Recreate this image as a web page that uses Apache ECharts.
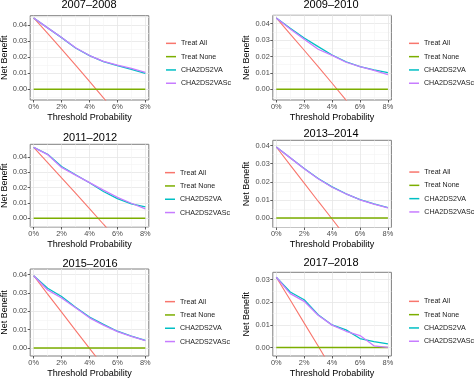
<!DOCTYPE html>
<html><head><meta charset="utf-8">
<script src="https://cdn.jsdelivr.net/npm/echarts@6/dist/echarts.min.js"></script>
<style>html,body{margin:0;padding:0;background:#fff}#c{width:474px;height:380px}</style>
</head><body><div id="c"></div>
<script>
// ---------- data ----------
const thresholds = [0, 1, 2, 3, 4, 5, 6, 7, 8];           // threshold probability, %
const periods = ['2007–2008', '2009–2010', '2011–2012', '2013–2014', '2015–2016', '2017–2018'];
const seriesNames = ['Treat All', 'Treat None', 'CHA2DS2VA', 'CHA2DS2VASc'];
const xTickValues = [0, 2, 4, 6, 8];
const yTickValuesA = [0, 0.01, 0.02, 0.03, 0.04];
const yTickValuesB = [0, 0.01, 0.02, 0.03];

const treatNone = [0, 0, 0, 0, 0, 0, 0, 0, 0];

const treatAll_2007_2008 = [0.0446, 0.0350, 0.0251, 0.0151, 0.0049, -0.0054, -0.0160];
const va_2007_2008       = [0.0446, 0.0384, 0.0323, 0.0258, 0.0210, 0.0173, 0.0148, 0.0125, 0.0100];
const vasc_2007_2008     = [0.0446, 0.0384, 0.0324, 0.0260, 0.0211, 0.0174, 0.0151, 0.0130, 0.0105];

const treatAll_2009_2010 = [0.0435, 0.0336, 0.0238, 0.0138, 0.0037, -0.0066, -0.0170];
const va_2009_2010       = [0.0435, 0.0372, 0.0313, 0.0260, 0.0209, 0.0168, 0.0139, 0.0118, 0.0102];
const vasc_2009_2010     = [0.0435, 0.0368, 0.0305, 0.0244, 0.0207, 0.0165, 0.0138, 0.0115, 0.0090];

const treatAll_2011_2012 = [0.0463, 0.0363, 0.0263, 0.0164, 0.0063, -0.0039, -0.0140];
const va_2011_2012       = [0.0463, 0.0418, 0.0338, 0.0284, 0.0232, 0.0175, 0.0128, 0.0094, 0.0075];
const vasc_2011_2012     = [0.0463, 0.0416, 0.0332, 0.0282, 0.0233, 0.0184, 0.0137, 0.0098, 0.0062];

const treatAll_2013_2014 = [0.0392, 0.0292, 0.0193, 0.0093, -0.0005, -0.0105];
const va_2013_2014       = [0.0392, 0.0333, 0.0273, 0.0218, 0.0172, 0.0134, 0.0102, 0.0078, 0.0057];
const vasc_2013_2014     = [0.0392, 0.0332, 0.0272, 0.0217, 0.0170, 0.0133, 0.0101, 0.0077, 0.0056];

const treatAll_2015_2016 = [0.0393, 0.0293, 0.0195, 0.0096, -0.0002, -0.0100];
const va_2015_2016       = [0.0393, 0.0325, 0.0280, 0.0222, 0.0168, 0.0128, 0.0091, 0.0064, 0.0041];
const vasc_2015_2016     = [0.0393, 0.0316, 0.0272, 0.0219, 0.0164, 0.0124, 0.0089, 0.0063, 0.0040];

const treatAll_2017_2018 = [0.0310, 0.0210, 0.0108, 0.0007, -0.0096];
const va_2017_2018       = [0.0310, 0.0245, 0.0211, 0.0145, 0.0100, 0.0078, 0.0040, 0.0026, 0.0016];
const vasc_2017_2018     = [0.0310, 0.0238, 0.0204, 0.0143, 0.0099, 0.0072, 0.0053, 0.0008, 0.0001];

const panelData = [
  [treatAll_2007_2008, treatNone, va_2007_2008, vasc_2007_2008],
  [treatAll_2009_2010, treatNone, va_2009_2010, vasc_2009_2010],
  [treatAll_2011_2012, treatNone, va_2011_2012, vasc_2011_2012],
  [treatAll_2013_2014, treatNone, va_2013_2014, vasc_2013_2014],
  [treatAll_2015_2016, treatNone, va_2015_2016, vasc_2015_2016],
  [treatAll_2017_2018, treatNone, va_2017_2018, vasc_2017_2018]
];
const yTicksPerPanel = [yTickValuesA, yTickValuesA, yTickValuesA, yTickValuesA, yTickValuesA, yTickValuesB];

// ---------- layout / style ----------
const FONT = '"Liberation Sans", Arial, Helvetica, sans-serif';
const colors = ['#F8766D', '#7CAE00', '#00BFC4', '#C77CFF'];
const lineWidths = [1.1, 1.5, 1.3, 1.3];
const gridLeft   = [30.2, 272.8, 30.2, 272.8, 30.2, 272.8];
const gridTop    = [15.7, 15.3, 144.3, 140.3, 269, 272.3];
const gridHeight = [84.3, 84.7, 82.7, 87.2, 87, 83.7];
const gridWidth  = 118.6;
const yMin = [-0.0067, -0.0065, -0.0057, -0.0052, -0.0044, -0.0037];
const yMax = [0.0460, 0.0451, 0.0483, 0.0429, 0.0430, 0.0332];
const titleX = [89, 331, 90, 331, 90, 331];
const titleY = [5, 5, 138, 134, 263.5, 263];
const legendLeft = [166, 409, 165, 409.3, 165, 409];
const legendTop  = [36.7, 36.7, 166, 165.4, 295, 294.7];

const option = {
  animation: false,
  backgroundColor: '#ffffff',
  textStyle: { fontFamily: FONT },
  title: [], legend: [], grid: [], xAxis: [], yAxis: [], series: []
};

periods.forEach((p, i) => {
  option.title.push({
    text: p, left: titleX[i], top: titleY[i] - 6.5, textAlign: 'center', padding: 0,
    textStyle: { fontFamily: FONT, fontSize: 11, fontWeight: 'normal', color: '#000', lineHeight: 13 }
  });
  option.legend.push({
    orient: 'vertical', left: legendLeft[i], top: legendTop[i], padding: 0,
    itemGap: 0, itemWidth: 10, itemHeight: 1.5, icon: 'rect',
    selectedMode: false,
    textStyle: { fontFamily: FONT, fontSize: 7.1, color: '#1a1a1a', lineHeight: 13.3 },
    data: seriesNames
  });
  option.grid.push({
    left: gridLeft[i], top: gridTop[i], width: gridWidth, height: gridHeight[i],
    containLabel: false, outerBoundsMode: 'none',
    show: true, borderColor: '#7f7f7f', borderWidth: 1, backgroundColor: '#fff'
  });
  option.xAxis.push({
    type: 'value', gridIndex: i, min: -0.25, max: 8.25, minInterval: 2, maxInterval: 2,
    name: 'Threshold Probability', nameLocation: 'middle', nameGap: 13,
    nameTextStyle: { fontFamily: FONT, fontSize: 9, color: '#000' },
    axisLine: { show: false, onZero: false },
    axisTick: { show: true, length: 2.5, lineStyle: { color: '#333', width: 0.8 }, customValues: xTickValues },
    axisLabel: { fontFamily: FONT, fontSize: 7.4, color: '#4d4d4d', margin: 3, customValues: xTickValues,
      formatter: v => (Math.abs(v - Math.round(v)) < 1e-9 && Math.round(v) % 2 === 0) ? Math.round(v) + '%' : '' },
    splitLine: { show: true, lineStyle: { color: '#e6e6e6', width: 0.8 } },
    minorTick: { show: false, splitNumber: 2 },
    minorSplitLine: { show: true, lineStyle: { color: '#f3f3f3', width: 0.6 } }
  });
  option.yAxis.push({
    type: 'value', gridIndex: i, min: yMin[i], max: yMax[i], minInterval: 0.01, maxInterval: 0.01,
    name: 'Net Benefit', nameLocation: 'middle', nameRotate: 90, nameGap: 21.5,
    nameTextStyle: { fontFamily: FONT, fontSize: 9, color: '#000' },
    axisLine: { show: false, onZero: false },
    axisTick: { show: true, length: 2.5, lineStyle: { color: '#333', width: 0.8 }, customValues: yTicksPerPanel[i] },
    axisLabel: { fontFamily: FONT, fontSize: 7.4, color: '#4d4d4d', margin: 3, customValues: yTicksPerPanel[i],
      formatter: v => (Math.abs(v * 100 - Math.round(v * 100)) < 1e-6) ? v.toFixed(2) : '' },
    splitLine: { show: true, lineStyle: { color: '#e6e6e6', width: 0.8 } },
    minorTick: { show: false, splitNumber: 2 },
    minorSplitLine: { show: true, lineStyle: { color: '#f3f3f3', width: 0.6 } }
  });
  panelData[i].forEach((arr, k) => {
    option.series.push({
      name: seriesNames[k], type: 'line', xAxisIndex: i, yAxisIndex: i,
      data: arr.map((v, j) => [thresholds[j], v]),
      showSymbol: false, symbol: 'none', clip: true, smooth: false,
      lineStyle: { color: colors[k], width: lineWidths[k] },
      itemStyle: { color: colors[k] },
      emphasis: { disabled: true }
    });
  });
});

const chart = echarts.init(document.getElementById('c'), null, { renderer: 'canvas' });
chart.setOption(option);
</script>
</body></html>
